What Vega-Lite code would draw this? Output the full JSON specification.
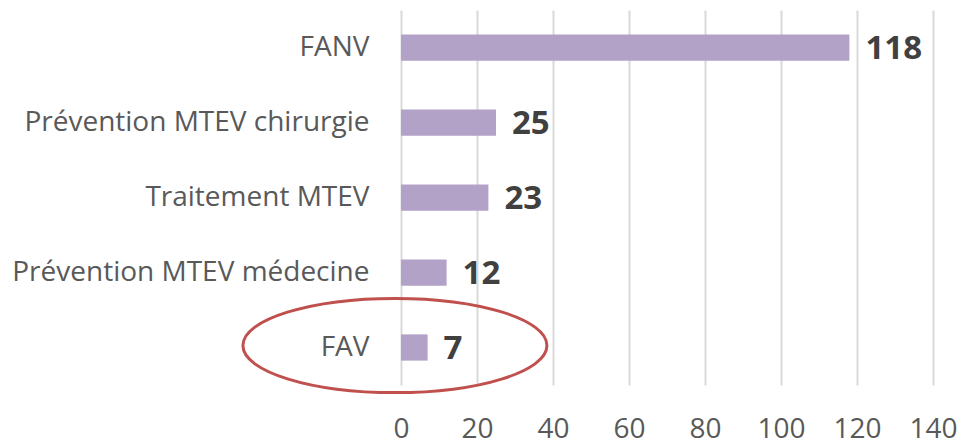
{
  "$schema": "https://vega.github.io/schema/vega-lite/v6.json",
  "width": 532,
  "height": 375,
  "autosize": {"type": "none"},
  "padding": {"left": 401, "top": 10, "right": 28, "bottom": 55},
  "background": "white",
  "config": {"view": {"stroke": null}, "font": "Open Sans"},
  "data": {"values": [
    {"cat": "FANV", "n": 118},
    {"cat": "Prévention MTEV chirurgie", "n": 25},
    {"cat": "Traitement MTEV", "n": 23},
    {"cat": "Prévention MTEV médecine", "n": 12},
    {"cat": "FAV", "n": 7}
  ]},
  "encoding": {
    "y": {"field": "cat", "type": "nominal", "sort": null,
      "scale": {"paddingInner": 0.65, "paddingOuter": 0.325},
      "axis": {"title": null, "ticks": false, "domain": false, "labelPadding": 32,
        "labelFont": "Open Sans", "labelFontSize": 28, "labelColor": "#595959", "labelLimit": 500}},
    "x": {"field": "n", "type": "quantitative",
      "scale": {"domain": [0, 140], "nice": false},
      "axis": {"title": null, "values": [0, 20, 40, 60, 80, 100, 120, 140], "ticks": false, "domain": false,
        "labelPadding": 30, "labelFont": "Open Sans", "labelFontSize": 28, "labelColor": "#595959",
        "gridColor": "#d9d9d9", "gridWidth": 2, "labelFlush": false}}
  },
  "layer": [
    {"mark": {"type": "bar", "color": "#b3a2c7"}},
    {"mark": {"type": "text", "align": "left", "baseline": "middle", "dx": 16, "dy": 1,
      "font": "Open Sans", "fontSize": 33, "fontWeight": "bold", "color": "#404040"},
      "encoding": {"text": {"field": "n", "type": "quantitative"}}},
    {"data": {"values": [{"cat": "FAV", "ex": -1.6}]},
      "mark": {"type": "point", "filled": false, "stroke": "#c0504d", "strokeWidth": 3, "opacity": 1,
        "size": 92416,
        "shape": "M -1,0 C -1,-0.1712 -0.5523,-0.31 0,-0.31 C 0.5523,-0.31 1,-0.1712 1,0 C 1,0.1712 0.5523,0.31 0,0.31 C -0.5523,0.31 -1,0.1712 -1,0 Z",
        "yOffset": -2},
      "encoding": {"x": {"field": "ex", "type": "quantitative"}, "y": {"field": "cat", "type": "nominal"}}}
  ]
}
